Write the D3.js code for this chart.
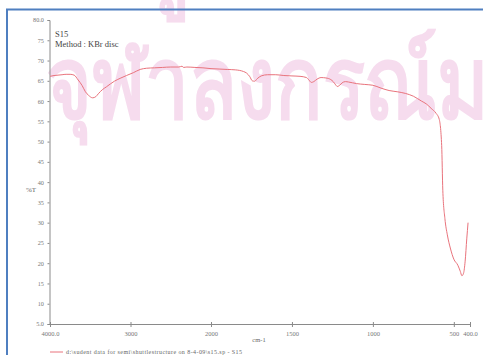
<!DOCTYPE html>
<html>
<head>
<meta charset="utf-8">
<script src="https://cdn.jsdelivr.net/npm/d3@7/dist/d3.min.js"></script>
<style>
  html, body { margin: 0; padding: 0; background: #fff; }
  svg { display: block; }
  .tick text { font-family: "Liberation Serif", "DejaVu Serif", serif; }
</style>
</head>
<body>
<svg id="chart" width="483" height="355"></svg>
<script>
// IR spectrum of sample S15 (KBr disc), %T versus wavenumber
const wavenumber = [
  4000, 3950, 3900, 3850, 3800, 3750, 3700, 3650, 3600, 3560, 3520, 3470, 3430, 3400,
  3350, 3300, 3200, 3130, 3050, 2965, 2880, 2800, 2700, 2600, 2500, 2400, 2360, 2340,
  2300, 2200, 2100, 2000, 1950, 1900, 1850, 1800, 1780, 1760, 1745, 1730, 1715, 1690,
  1650, 1600, 1550, 1500, 1450, 1410, 1395, 1380, 1365, 1345, 1320, 1290, 1260, 1245,
  1230, 1220, 1205, 1190, 1170, 1150, 1100, 1050, 1000, 950, 900, 850, 800, 750, 700,
  670, 640, 610, 590, 575, 568, 555, 540, 520, 500, 475, 460, 450, 440, 430, 420, 412
];
const transmittance = [
  66.1, 66.3, 66.4, 66.5, 66.6, 66.6, 66.4, 65.2, 63.8, 62.3, 61.4, 60.8, 61.1, 61.8,
  62.8, 63.5, 64.9, 65.6, 66.3, 67.0, 67.8, 68.1, 68.2, 68.3, 68.4, 68.4, 68.6, 68.3,
  68.4, 68.3, 68.2, 68.0, 67.9, 67.8, 67.7, 67.3, 66.9, 66.0, 65.0, 64.9, 65.5, 66.2,
  66.5, 66.5, 66.3, 66.2, 66.1, 65.8, 65.2, 64.6, 64.8, 65.4, 65.8, 65.7, 65.3, 64.8,
  64.0, 63.6, 63.9, 64.5, 64.8, 64.7, 64.3, 64.1, 63.9, 63.2, 62.6, 62.3, 61.9, 61.2,
  60.0, 59.3, 58.2, 57.0, 55.5, 49.0, 38.0, 31.0, 27.0, 23.5, 21.0, 19.5, 18.0, 16.9,
  17.5, 20.5, 26.0, 30.0
];

// axis ticks
const xTicks = [4000, 3000, 2000, 1500, 1000, 500, 400];
const xTickLabels = ["4000.0", "3000", "2000", "1500", "1000", "500", "400.0"];
const yTicks = [80, 75, 70, 65, 60, 55, 50, 45, 40, 35, 30, 25, 20, 15, 10, 5];
const yTickLabels = ["80.0", "75", "70", "65", "60", "55", "50", "45", "40", "35", "30", "25", "20", "15", "10", "5.0"];

const sampleName = "S15";
const methodText = "Method : KBr disc";
const legendText = "d:\\sudent data for semi\\shuttlestructure on 8-4-09\\s15.sp - S15";
const watermarkTop = "ศูนย์วิทยทรัพยากร";
const watermarkMain = "จุฬาลงกรณ์มหาวิทยาลัย";

const svg = d3.select("#chart");

// faint watermark behind everything
const wm = svg.append("g")
  .attr("fill", "#f6dcee")
  .attr("font-family", "'DejaVu Sans', 'Noto Sans', sans-serif")
  .attr("font-weight", "bold");
wm.append("text").attr("transform", "translate(140,-5) scale(1,1.25)")
  .attr("font-size", 80).text(watermarkTop);
wm.append("text").attr("transform", "translate(46,118) scale(0.98,1.25)")
  .attr("font-size", 80).text(watermarkMain);

// frame edges
svg.append("line").attr("x1", 6).attr("x2", 483).attr("y1", 9.5).attr("y2", 9.5)
  .attr("stroke", "#4f7fc0").attr("stroke-width", 2);
svg.append("line").attr("x1", 7).attr("x2", 7).attr("y1", 9).attr("y2", 355)
  .attr("stroke", "#4f7fc0").attr("stroke-width", 2);

// wavenumber scale changes pitch at 2000 cm-1
const x = d3.scaleLinear().domain([4000, 2000, 400]).range([50, 211, 470]);
const y = d3.scaleLinear().domain([5, 80]).range([324, 20]);

const xAxis = d3.axisBottom(x)
  .tickValues(xTicks)
  .tickSize(3)
  .tickFormat((d, i) => xTickLabels[i]);
const gx = svg.append("g").attr("transform", "translate(0,324)").call(xAxis);
gx.select(".domain").attr("stroke", "#8a8a8a");
gx.selectAll(".tick line").attr("stroke", "#8a8a8a").attr("y1", -2);
gx.selectAll(".tick text").attr("font-size", 6.5).attr("fill", "#777").attr("dy", "0.85em");

const yAxis = d3.axisLeft(y)
  .tickValues(yTicks)
  .tickSize(2)
  .tickFormat((d, i) => yTickLabels[i]);
const gy = svg.append("g").attr("transform", "translate(49.5,0)").call(yAxis);
gy.select(".domain").attr("stroke", "#8a8a8a");
gy.selectAll(".tick line").attr("stroke", "#8a8a8a");
gy.selectAll(".tick text").attr("font-size", 6.2).attr("fill", "#777").attr("dx", "-0.1em");

// axis titles
svg.append("text").attr("x", 31).attr("y", 192).attr("text-anchor", "middle")
  .attr("font-family", "'Liberation Serif', serif").attr("font-size", 7).attr("fill", "#666").text("%T");
svg.append("text").attr("x", 259).attr("y", 342).attr("text-anchor", "middle")
  .attr("font-family", "'Liberation Serif', serif").attr("font-size", 6.5).attr("fill", "#666").text("cm-1");

// sample labels
svg.append("text").attr("x", 55).attr("y", 37)
  .attr("font-family", "'Liberation Serif', serif").attr("font-size", 8.5).attr("fill", "#444").text(sampleName);
svg.append("text").attr("x", 55).attr("y", 47)
  .attr("font-family", "'Liberation Serif', serif").attr("font-size", 8.5).attr("fill", "#444").text(methodText);

// spectrum trace
const line = d3.line()
  .x((d, i) => x(wavenumber[i]))
  .y(d => y(d))
  .curve(d3.curveMonotoneX);
svg.append("path")
  .datum(transmittance)
  .attr("fill", "none")
  .attr("stroke", "#e9737c")
  .attr("stroke-width", 1)
  .attr("d", line);

// legend
svg.append("line").attr("x1", 50).attr("x2", 63).attr("y1", 352).attr("y2", 352)
  .attr("stroke", "#e9737c").attr("stroke-width", 1);
svg.append("text").attr("x", 66).attr("y", 353.5)
  .attr("font-family", "'Liberation Serif', serif").attr("font-size", 6)
  .attr("textLength", 176).attr("lengthAdjust", "spacing")
  .attr("fill", "#666").text(legendText);
</script>
</body>
</html>
